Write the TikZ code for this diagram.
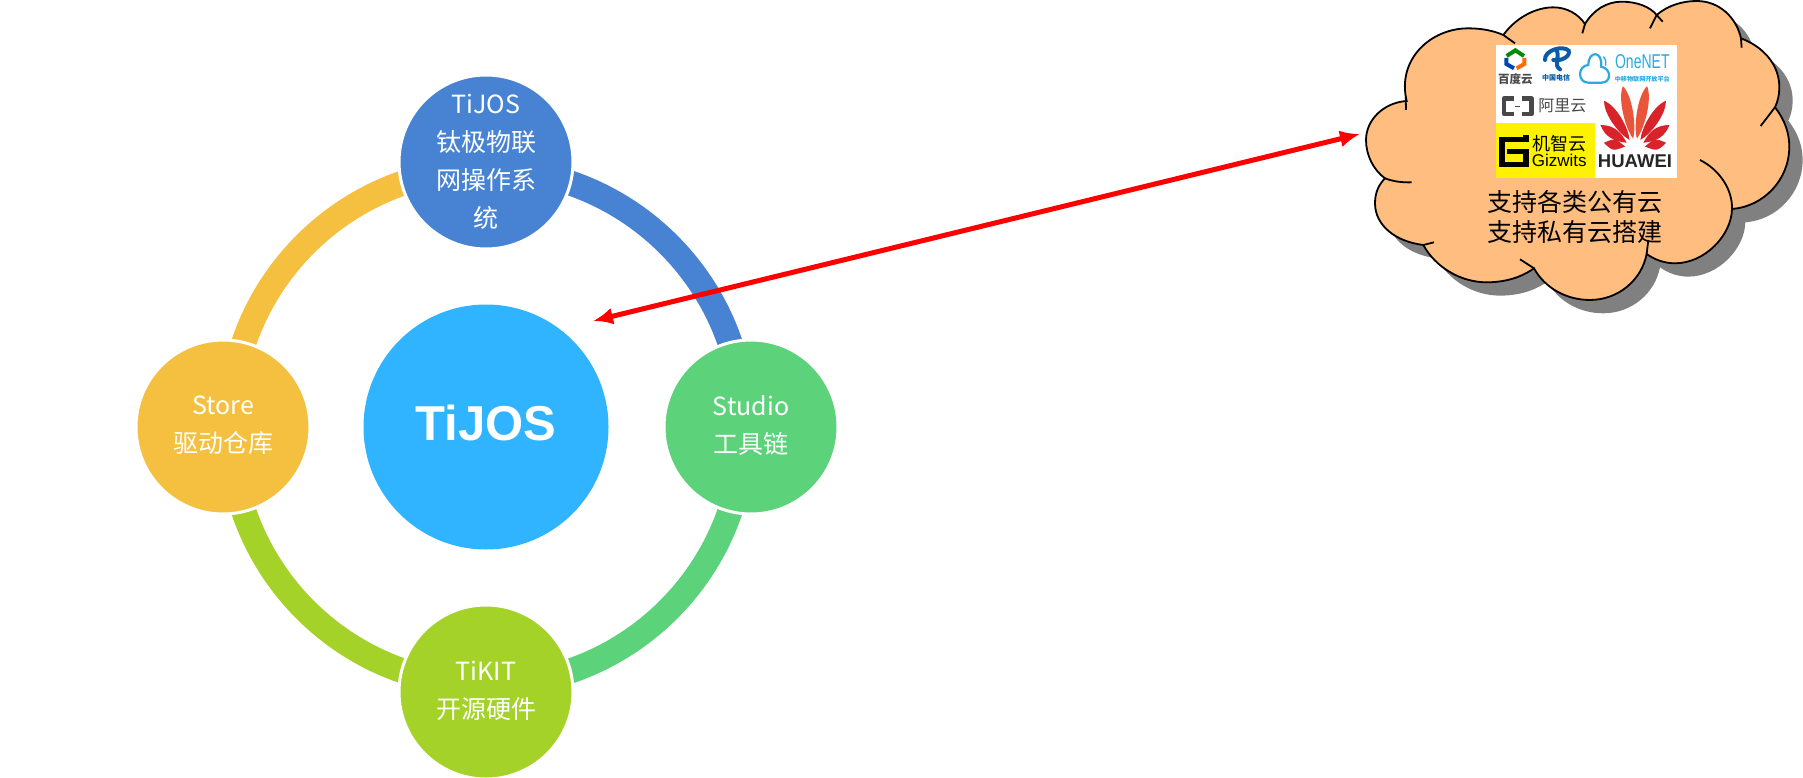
\documentclass[tikz,border=0pt]{standalone}
\usepackage{fontspec}
\setmainfont{Noto Sans CJK SC}
\newfontfamily\arialfont{Liberation Sans}
\usetikzlibrary{arrows.meta, backgrounds}

\definecolor{hubblue}{HTML}{30B4FF}
\definecolor{osblue}{HTML}{4883D3}
\definecolor{studiogreen}{HTML}{5CD27A}
\definecolor{kitgreen}{HTML}{A5D228}
\definecolor{storeyellow}{HTML}{F5C040}
\definecolor{cloudorange}{HTML}{FFBD80}
\definecolor{huaweired}{HTML}{D8232A}
\definecolor{huaweilight}{HTML}{E8553A}
\definecolor{onenetblue}{HTML}{29ABE2}
\definecolor{telecomblue}{HTML}{0A5CA8}
\definecolor{aligray}{HTML}{484848}

\newcommand{\cloudoutline}{(200,303)
 .. controls (170,180) and (270,85) .. (385,85) .. controls (425,85) and (460,92) .. (490,105)
 .. controls (530,50) and (590,22) .. (640,22) .. controls (680,22) and (715,42) .. (735,72)
 .. controls (760,30) and (800,5) .. (845,5) .. controls (890,5) and (930,20) .. (950,45)
 .. controls (985,15) and (1030,3) .. (1070,3) .. controls (1140,3) and (1190,55) .. (1203,115)
 .. controls (1270,140) and (1320,195) .. (1318,265) .. controls (1318,285) and (1313,305) .. (1305,322)
 .. controls (1335,360) and (1348,400) .. (1348,440) .. controls (1348,540) and (1270,620) .. (1176,627)
 .. controls (1175,705) and (1095,790) .. (1005,790) .. controls (975,790) and (945,780) .. (920,762)
 .. controls (905,840) and (835,900) .. (750,900) .. controls (680,900) and (615,865) .. (582,805)
 .. controls (540,835) and (490,847) .. (440,847) .. controls (360,847) and (285,800) .. (250,735)
 .. controls (165,725) and (105,675) .. (105,610) .. controls (105,580) and (115,555) .. (135,535)
 .. controls (100,510) and (78,465) .. (78,420) .. controls (78,360) and (130,308) .. (200,303) -- cycle}

\begin{document}
\begin{tikzpicture}[x=1pt, y=-1pt,
  disc/.style={circle, draw=white, line width=3pt, minimum size=174pt, inner sep=0pt, align=center,
    text=white, font=\fontsize{25}{38}\selectfont},
  twoline/.style={text depth=5pt},
  ring/.style={line width=25pt},
  logotext/.style={inner sep=0pt, align=center}]
\useasboundingbox (0,0) rectangle (1803,778);

\node[circle, fill=hubblue, minimum size=245pt, inner sep=0pt, text=white, text depth=8pt,
  font=\arialfont\bfseries\fontsize{49}{49}\selectfont] (hub) at (486,427) {TiJOS};
\node[disc, fill=osblue] (os) at (486,162) {TiJOS\\钛极物联\\网操作系\\统};
\node[disc, twoline, fill=studiogreen] (studio) at (751,427) {Studio\\工具链};
\node[disc, twoline, fill=kitgreen] (kit) at (486,692) {TiKIT\\开源硬件};
\node[disc, twoline, fill=storeyellow] (store) at (223,427) {Store\\驱动仓库};

\begin{pgfonlayer}{background}
\draw[ring, osblue] ([yshift=-7pt]os.center) to[bend left=45] ([xshift=-7pt]studio.center);
\draw[ring, studiogreen] ([xshift=-7pt]studio.center) to[bend left=45] ([yshift=7pt]kit.center);
\draw[ring, kitgreen] ([yshift=7pt]kit.center) to[bend left=45] ([xshift=7pt]store.center);
\draw[ring, storeyellow] ([xshift=7pt]store.center) to[bend left=45] ([yshift=-7pt]os.center);
\end{pgfonlayer}

% cloud, traced in thirds of a pixel
\begin{scope}[shift={(1340,0)}, x=.3333pt, y=-.3333pt]
\fill[black!50, shift={(40,40)}] \cloudoutline;
\fill[cloudorange] \cloudoutline;
\draw[line width=1.8pt] \cloudoutline;
\draw[line width=1.8pt]
  (197,290) -- (198,330)
  (490,105) -- (525,130)
  (735,72) -- (727,100)
  (950,45) -- (968,65)
  (950,45) -- (930,85)
  (1203,115) -- (1205,143)
  (1305,322) -- (1262,378)
  (1176,627) .. controls (1178,570) and (1140,510) .. (1080,480)
  (920,762) -- (925,720)
  (582,805) -- (540,778)
  (250,735) -- (282,727)
  (135,535) .. controls (160,545) and (190,548) .. (215,547);

\fill[white] (468,135) rectangle (1011,533);
\fill[yellow] (468,368) rectangle (765,533);

% baidu
\draw[line width=4pt, green!55!black] (500,168) -- (526,151) -- (552,168);
\draw[line width=4pt, blue!60!cyan!70!black] (499,174) -- (499,192) -- (522,205);
\draw[line width=4pt, orange!85!red] (553,174) -- (553,192) -- (530,205);
\node[logotext, font=\bfseries\fontsize{11.5}{12}\selectfont, text=black!70] (baidu) at (526,237) {百度云};
% telecom
\draw[line width=4pt, telecomblue, line cap=round]
  (615,180) .. controls (612,150) and (670,135) .. (686,152) .. controls (693,170) and (660,185) .. (640,180)
  (650,150) .. controls (660,175) and (640,195) .. (660,208);
\node[logotext, font=\bfseries\fontsize{7}{8}\selectfont, text=telecomblue] (telecom) at (648,234) {中国电信};
% onenet
\draw[line width=2.2pt, onenetblue]
  (745,248) .. controls (712,248) and (712,197) .. (745,195)
  .. controls (745,150) and (790,152) .. (783,200)
  .. controls (815,205) and (815,248) .. (785,248) -- cycle;
\draw[line width=1.4pt, onenetblue] (790,170) .. controls (797,178) and (800,187) .. (797,197);
\node[logotext, font=\arialfont\fontsize{20}{20}\selectfont, text=onenetblue, xscale=.7] (onenet) at (907,186) {OneNET};
\node[logotext, font=\bfseries\fontsize{6.1}{7}\selectfont, text=onenetblue] (onenetsub) at (907,236) {中移物联网开放平台};
% aliyun
\draw[line width=4.5pt, aligray, line join=round]
  (522,296) -- (492,296) -- (492,342) -- (522,342)
  (545,296) -- (575,296) -- (575,342) -- (545,342);
\draw[line width=1pt, aligray] (525,319) -- (540,319);
\node[logotext, font=\fontsize{16}{18}\selectfont, text=aligray] (aliyun) at (667,318) {阿里云};
% gizwits
\draw[line width=5.5pt] (558,405) -- (558,418) -- (486,418) -- (486,494) -- (558,494) -- (558,455) -- (500,455);
\node[logotext, font=\fontsize{18}{18}\selectfont] (gizcn) at (660,432) {机智云};
\node[logotext, font=\arialfont\fontsize{17}{17}\selectfont] (gizwits) at (658,480) {Gizwits};
% huawei
\foreach \ang/\len/\col in {-80/95/huaweired, -56/125/huaweired, -33/170/huaweired, -11/190/huaweilight,
    11/190/huaweilight, 33/170/huaweired, 56/125/huaweired, 80/95/huaweired}
  \fill[\col, shift={(885,445)}, rotate=\ang]
    (0,-30) .. controls (-16,-60) and (-24,-\len+35) .. (0,-\len) .. controls (24,-\len+35) and (16,-60) .. (0,-30);
\node[logotext, font=\arialfont\bfseries\fontsize{18.5}{19}\selectfont, text=black!85] (huawei) at (885,483) {HUAWEI};

\node[logotext, font=\fontsize{25}{30}\selectfont] (cloudtext) at (705,650) {支持各类公有云\\支持私有云搭建};
\end{scope}

\coordinate (hubend) at (593,321);
\coordinate (cloudend) at (1360,134);
\draw[{Latex[length=20pt,width=17pt]}-{Latex[length=20pt,width=17pt]}, red, line width=5pt] (hubend) -- (cloudend);
\end{tikzpicture}
\end{document}
